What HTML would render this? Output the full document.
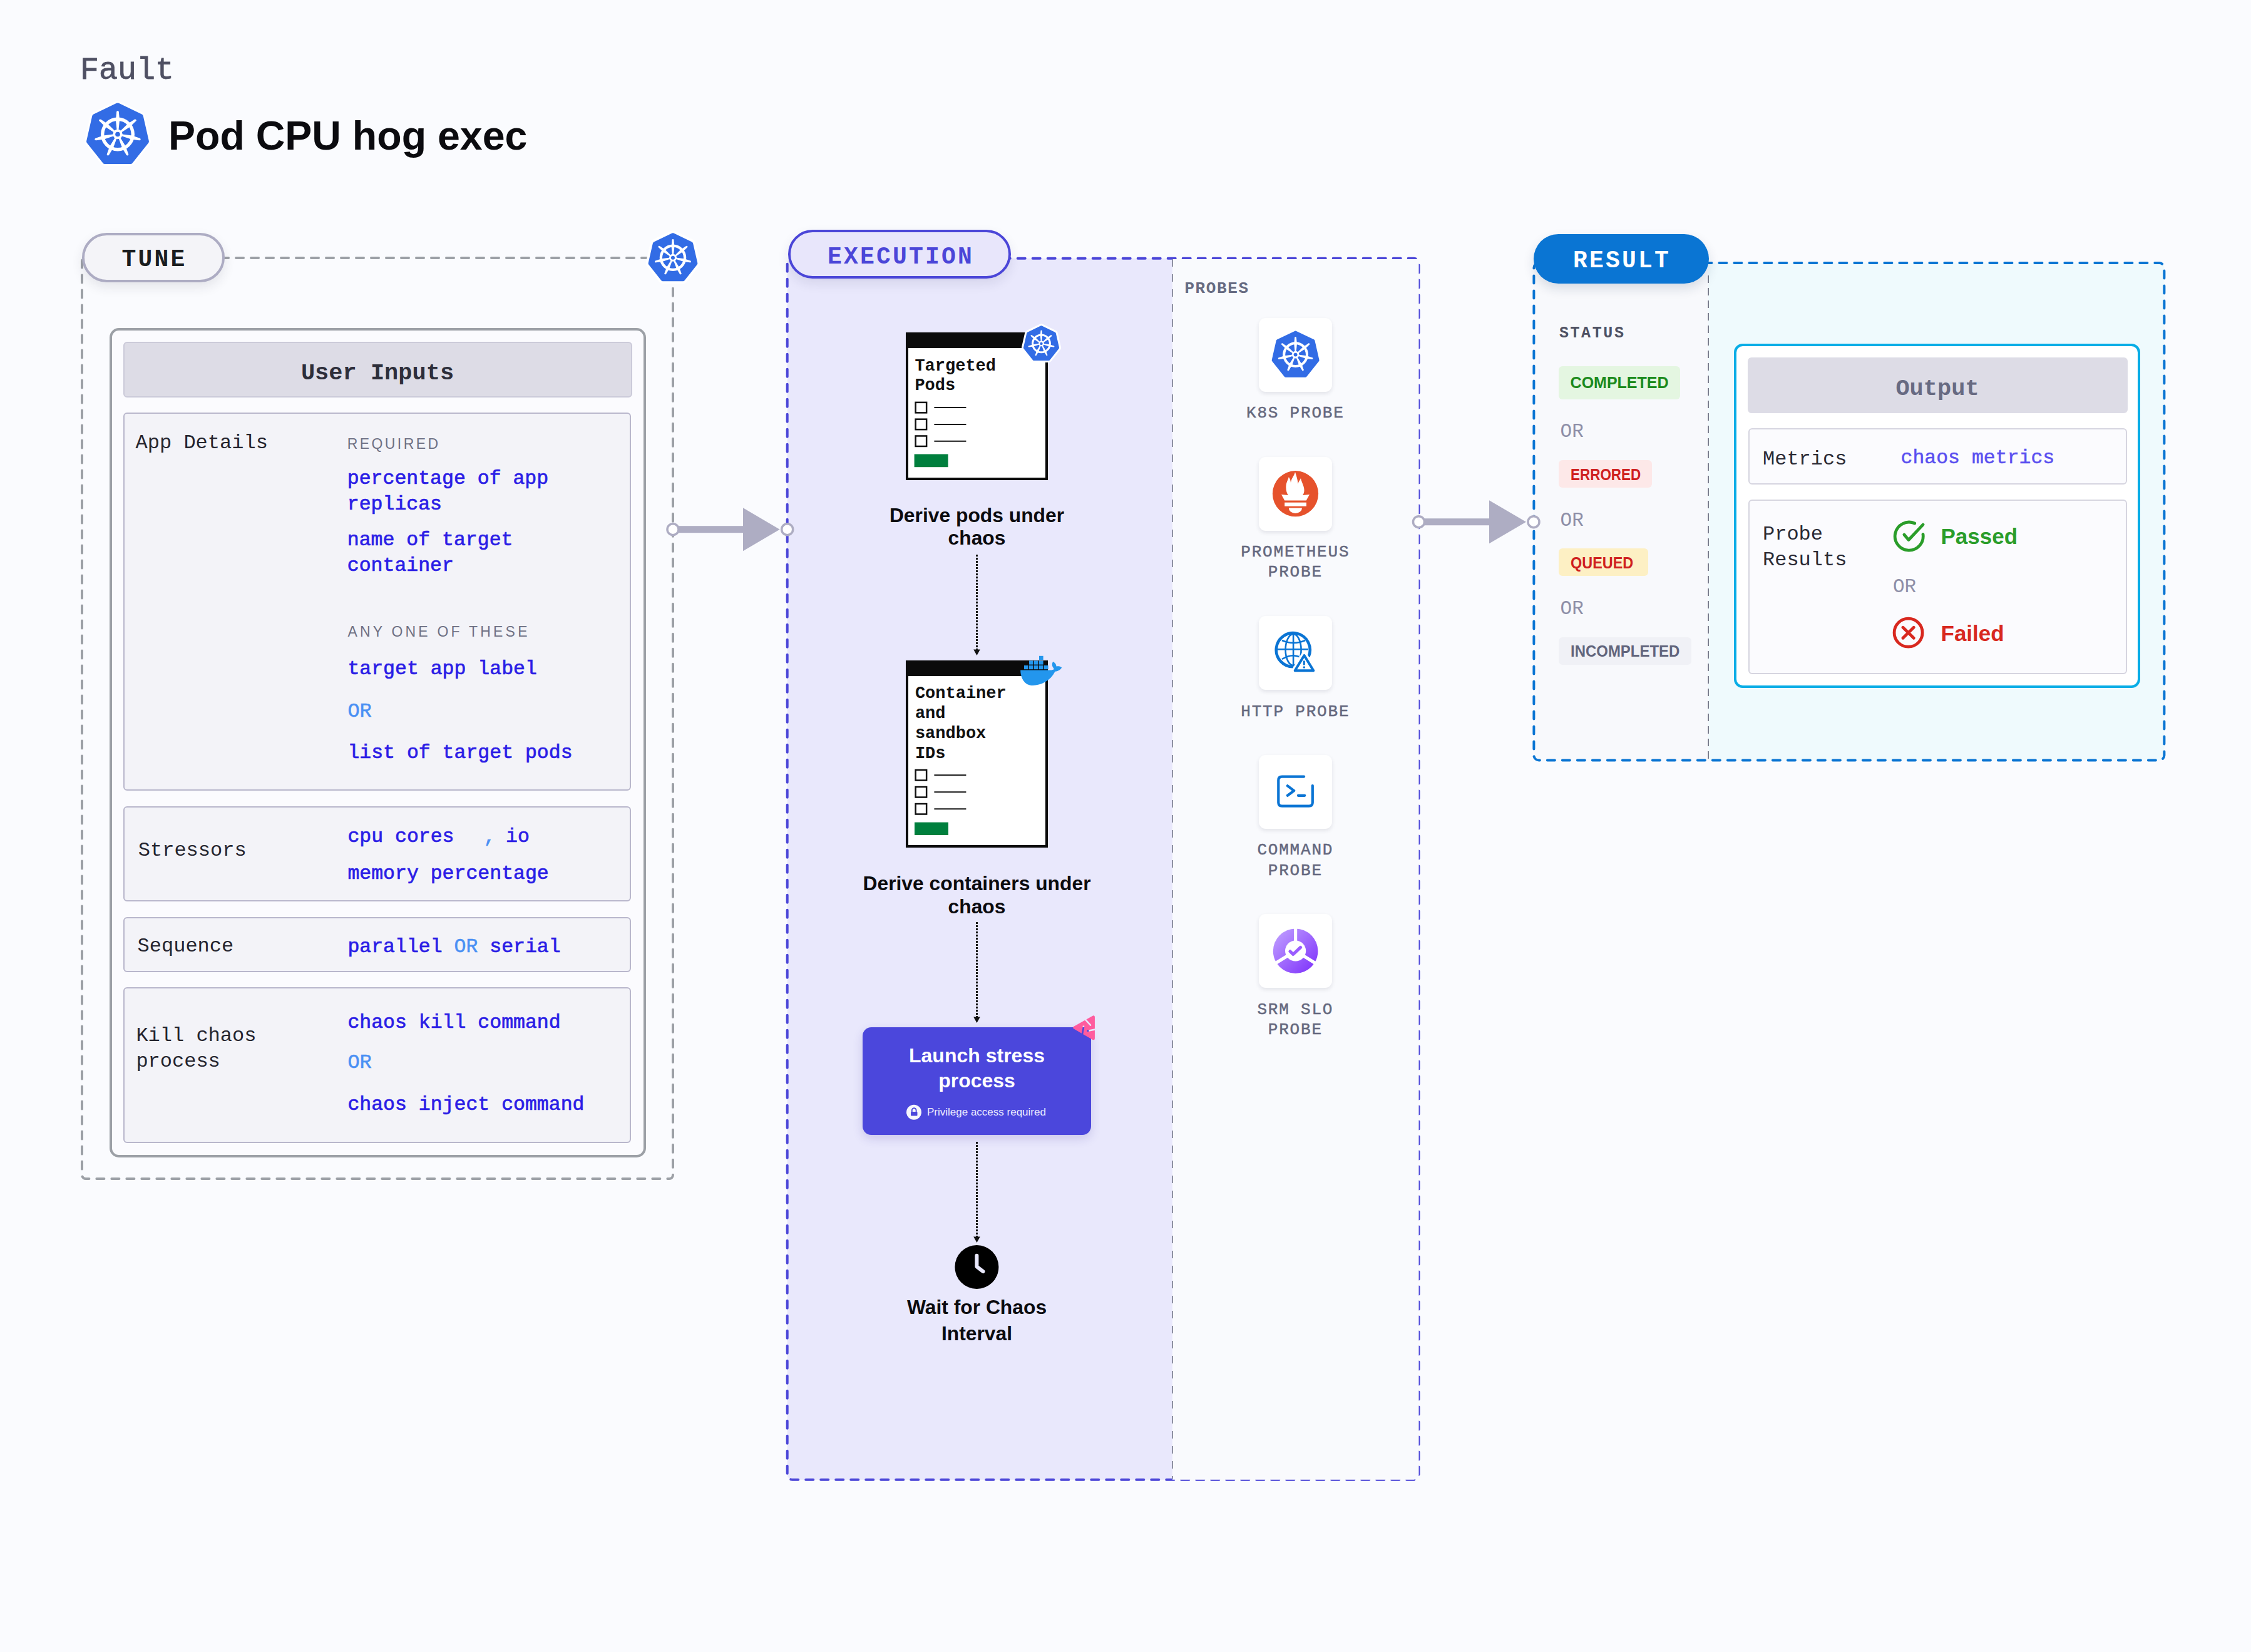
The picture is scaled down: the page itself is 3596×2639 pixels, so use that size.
<!DOCTYPE html>
<html><head><meta charset="utf-8"><style>
html,body{margin:0;padding:0;}
body{width:3596px;height:2639px;background:#fafbfe;position:relative;overflow:hidden;}
.t{position:absolute;white-space:nowrap;}
.b{position:absolute;}
svg.b{overflow:visible;}
</style></head><body>
<div class="t" style="left:128.0px;top:82.7px;font-size:50px;line-height:60.0px;font-family:'Liberation Mono', monospace;font-weight:400;color:#4f5063;-webkit-text-stroke:0.8px #4f5063;">Fault</div>
<svg class="b" style="left:0px;top:0px;" width="400" height="400" viewBox="0 0 400 400"><path d="M188.00,168.49 L224.76,186.19 L233.83,225.96 L208.40,257.86 L167.60,257.86 L142.17,225.96 L151.24,186.19Z" fill="#fff" stroke="#fff" stroke-width="14.18" stroke-linejoin="round"/><path d="M188.00,168.49 L224.76,186.19 L233.83,225.96 L208.40,257.86 L167.60,257.86 L142.17,225.96 L151.24,186.19Z" fill="#326ce5" stroke="#326ce5" stroke-width="8.18" stroke-linejoin="round"/><circle cx="188.00" cy="214.48" r="24.27" fill="none" stroke="#fff" stroke-width="5.37"/><path d="M189.28,209.37 L191.07,191.48 L189.79,178.71 L186.21,178.71 L184.93,191.48 L186.72,209.37Z" fill="#fff"/><circle cx="188.00" cy="178.71" r="1.79" fill="#fff"/><path d="M192.79,212.29 L207.89,202.54 L217.08,193.57 L214.85,190.78 L204.07,197.74 L191.20,210.29Z" fill="#fff"/><circle cx="215.97" cy="192.18" r="1.79" fill="#fff"/><path d="M192.70,216.86 L209.74,222.58 L222.48,224.18 L223.27,220.69 L211.10,216.61 L193.27,214.37Z" fill="#fff"/><circle cx="222.87" cy="222.44" r="1.79" fill="#fff"/><path d="M189.07,219.64 L195.21,236.53 L201.91,247.48 L205.13,245.93 L200.74,233.87 L191.37,218.53Z" fill="#fff"/><circle cx="203.52" cy="246.71" r="1.79" fill="#fff"/><path d="M184.63,218.53 L175.26,233.87 L170.87,245.93 L174.09,247.48 L180.79,236.53 L186.93,219.64Z" fill="#fff"/><circle cx="172.48" cy="246.71" r="1.79" fill="#fff"/><path d="M182.73,214.37 L164.90,216.61 L152.73,220.69 L153.52,224.18 L166.26,222.58 L183.30,216.86Z" fill="#fff"/><circle cx="153.13" cy="222.44" r="1.79" fill="#fff"/><path d="M184.80,210.29 L171.93,197.74 L161.15,190.78 L158.92,193.57 L168.11,202.54 L183.21,212.29Z" fill="#fff"/><circle cx="160.03" cy="192.18" r="1.79" fill="#fff"/><circle cx="188.00" cy="214.48" r="7.67" fill="#fff"/><circle cx="188.00" cy="214.48" r="3.83" fill="#326ce5"/></svg>
<div class="t" style="left:269.0px;top:179.0px;font-size:64.5px;line-height:77.39999999999999px;font-family:'Liberation Sans', sans-serif;font-weight:700;color:#0b0b0f;">Pod CPU hog exec</div>
<svg class="b" style="left:0px;top:0px;" width="3596" height="2639" viewBox="0 0 3596 2639"><rect x="131" y="412" width="944" height="1471" rx="6" fill="none" stroke="#9ca0a6" stroke-width="4" stroke-dasharray="12 12" stroke-linecap="round"/><rect x="1257.7" y="412.7" width="1008.8" height="1951" rx="8" fill="#f9fafd" stroke="none"/><path d="M1265.7,412.7 H1873 V2363.7 H1265.7 a8,8 0 0 1 -8,-8 V420.7 a8,8 0 0 1 8,-8Z" fill="#e9e8fc"/><rect x="1257.7" y="412.7" width="1008.8" height="1951" rx="8" fill="none" stroke="#4b46d8" stroke-width="4" stroke-dasharray="12 12" stroke-linecap="round"/><path d="M1873,414 H2266.5 V2355.7 a8,8 0 0 1 -8,8 H1873Z" fill="#f9fafd"/><line x1="1873" y1="414" x2="1873" y2="2362" stroke="#8e91a2" stroke-width="2" stroke-dasharray="12 12"/><rect x="2450.4" y="420" width="1007" height="794.5" rx="8" fill="#f8f9fc" stroke="none"/><path d="M2729.2,420 H3449.4 a8,8 0 0 1 8,8 V1206.5 a8,8 0 0 1 -8,8 H2729.2Z" fill="#effafd"/><line x1="2729.2" y1="440" x2="2729.2" y2="1213" stroke="#6d7082" stroke-width="1.5" stroke-dasharray="12 8"/><rect x="2450.4" y="420" width="1007" height="794.5" rx="8" fill="none" stroke="#0a75d3" stroke-width="4" stroke-dasharray="12 12" stroke-linecap="round"/></svg>
<div class="b" style="left:131px;top:372px;width:227.5px;height:78.69999999999999px;box-sizing:border-box;border:4px solid #adacc3;background:#f4f4f8;border-radius:40px;box-shadow:0 8px 18px rgba(40,40,60,0.10);"></div>
<div class="t" style="left:96.5px;top:392.4px;font-size:38px;line-height:45.6px;font-family:'Liberation Mono', monospace;font-weight:700;color:#1a1d1f;letter-spacing:3.2px;width:300px;text-align:center;">TUNE</div>
<svg class="b" style="left:0px;top:0px;" width="1200" height="600" viewBox="0 0 1200 600"><path d="M1075.00,375.42 L1103.99,389.38 L1111.15,420.75 L1091.09,445.90 L1058.91,445.90 L1038.85,420.75 L1046.01,389.38Z" fill="#fff" stroke="#fff" stroke-width="14.45" stroke-linejoin="round"/><path d="M1075.00,375.42 L1103.99,389.38 L1111.15,420.75 L1091.09,445.90 L1058.91,445.90 L1038.85,420.75 L1046.01,389.38Z" fill="#326ce5" stroke="#326ce5" stroke-width="6.45" stroke-linejoin="round"/><circle cx="1075.00" cy="411.69" r="19.14" fill="none" stroke="#fff" stroke-width="4.23"/><path d="M1076.01,407.66 L1077.42,393.56 L1076.41,383.48 L1073.59,383.48 L1072.58,393.56 L1073.99,407.66Z" fill="#fff"/><circle cx="1075.00" cy="383.48" r="1.41" fill="#fff"/><path d="M1078.78,409.97 L1090.69,402.28 L1097.93,395.21 L1096.18,393.00 L1087.67,398.50 L1077.52,408.39Z" fill="#fff"/><circle cx="1097.06" cy="394.11" r="1.41" fill="#fff"/><path d="M1078.70,413.57 L1092.14,418.09 L1102.19,419.35 L1102.82,416.60 L1093.22,413.37 L1079.15,411.61Z" fill="#fff"/><circle cx="1102.50" cy="417.97" r="1.41" fill="#fff"/><path d="M1075.84,415.76 L1080.69,429.08 L1085.97,437.72 L1088.51,436.50 L1085.05,426.98 L1077.66,414.89Z" fill="#fff"/><circle cx="1087.24" cy="437.11" r="1.41" fill="#fff"/><path d="M1072.34,414.89 L1064.95,426.98 L1061.49,436.50 L1064.03,437.72 L1069.31,429.08 L1074.16,415.76Z" fill="#fff"/><circle cx="1062.76" cy="437.11" r="1.41" fill="#fff"/><path d="M1070.85,411.61 L1056.78,413.37 L1047.18,416.60 L1047.81,419.35 L1057.86,418.09 L1071.30,413.57Z" fill="#fff"/><circle cx="1047.50" cy="417.97" r="1.41" fill="#fff"/><path d="M1072.48,408.39 L1062.33,398.50 L1053.82,393.00 L1052.07,395.21 L1059.31,402.28 L1071.22,409.97Z" fill="#fff"/><circle cx="1052.94" cy="394.11" r="1.41" fill="#fff"/><circle cx="1075.00" cy="411.69" r="6.04" fill="#fff"/><circle cx="1075.00" cy="411.69" r="3.02" fill="#326ce5"/></svg>
<div class="b" style="left:174.5px;top:523.5px;width:857.0px;height:1325.0px;box-sizing:border-box;border:4.5px solid #9ca0a6;border-radius:15px;background:#fbfbfe;"></div>
<div class="b" style="left:196.6px;top:545.7px;width:813.0px;height:89.59999999999991px;box-sizing:border-box;border:2px solid #cbcad9;border-radius:6px;background:#dddce6;"></div>
<div class="t" style="left:303.0px;top:573.9px;font-size:37px;line-height:44.4px;font-family:'Liberation Mono', monospace;font-weight:700;color:#2d2e3a;width:600px;text-align:center;">User Inputs</div>
<div class="b" style="left:197px;top:659px;width:811px;height:604.4000000000001px;box-sizing:border-box;border:2px solid #b9b7cc;border-radius:6px;background:#f3f3f8;"></div>
<div class="b" style="left:197px;top:1288px;width:811px;height:152px;box-sizing:border-box;border:2px solid #b9b7cc;border-radius:6px;background:#f3f3f8;"></div>
<div class="b" style="left:197px;top:1464.7px;width:811px;height:87.89999999999986px;box-sizing:border-box;border:2px solid #b9b7cc;border-radius:6px;background:#f3f3f8;"></div>
<div class="b" style="left:197px;top:1577.4px;width:811px;height:248.39999999999986px;box-sizing:border-box;border:2px solid #b9b7cc;border-radius:6px;background:#f3f3f8;"></div>
<div class="t" style="left:216.6px;top:689.3px;font-size:32px;line-height:38.4px;font-family:'Liberation Mono', monospace;font-weight:400;color:#24242e;">App Details</div>
<div class="t" style="left:554.8px;top:696.0px;font-size:23px;line-height:27.599999999999998px;font-family:'Liberation Sans', sans-serif;font-weight:400;color:#6e7084;letter-spacing:3.4px;">REQUIRED</div>
<div class="t" style="left:554.8px;top:745.1px;font-size:31.5px;line-height:40.6px;font-family:'Liberation Mono', monospace;font-weight:400;color:#2b1de6;-webkit-text-stroke:0.7px #2b1de6;">percentage of app<br>replicas</div>
<div class="t" style="left:554.8px;top:843.1px;font-size:31.5px;line-height:40.6px;font-family:'Liberation Mono', monospace;font-weight:400;color:#2b1de6;-webkit-text-stroke:0.7px #2b1de6;">name of target<br>container</div>
<div class="t" style="left:555.4px;top:995.5px;font-size:23px;line-height:27.599999999999998px;font-family:'Liberation Sans', sans-serif;font-weight:400;color:#6e7084;letter-spacing:4.2px;">ANY ONE OF THESE</div>
<div class="t" style="left:555.4px;top:1050.3px;font-size:31.5px;line-height:37.8px;font-family:'Liberation Mono', monospace;font-weight:400;color:#2b1de6;-webkit-text-stroke:0.7px #2b1de6;">target app label</div>
<div class="t" style="left:555.4px;top:1117.8px;font-size:32px;line-height:38.4px;font-family:'Liberation Mono', monospace;font-weight:400;color:#4a90f4;-webkit-text-stroke:0.5px #4a90f4">OR</div>
<div class="t" style="left:555.4px;top:1184.3px;font-size:31.5px;line-height:37.8px;font-family:'Liberation Mono', monospace;font-weight:400;color:#2b1de6;-webkit-text-stroke:0.7px #2b1de6;">list of target pods</div>
<div class="t" style="left:220.8px;top:1340.3px;font-size:32px;line-height:38.4px;font-family:'Liberation Mono', monospace;font-weight:400;color:#24242e;">Stressors</div>
<div class="t" style="left:555.4px;top:1318.3px;font-size:31.5px;line-height:37.8px;font-family:'Liberation Mono', monospace;font-weight:400;color:#2b1de6;-webkit-text-stroke:0.7px #2b1de6;">cpu cores</div>
<div class="t" style="left:772.8px;top:1318.3px;font-size:31.5px;line-height:37.8px;font-family:'Liberation Mono', monospace;font-weight:400;color:#4a90f4;-webkit-text-stroke:0.7px #4a90f4">,</div>
<div class="t" style="left:808.1px;top:1318.3px;font-size:31.5px;line-height:37.8px;font-family:'Liberation Mono', monospace;font-weight:400;color:#2b1de6;-webkit-text-stroke:0.7px #2b1de6;">io</div>
<div class="t" style="left:555.4px;top:1377.1px;font-size:31.5px;line-height:37.8px;font-family:'Liberation Mono', monospace;font-weight:400;color:#2b1de6;-webkit-text-stroke:0.7px #2b1de6;">memory percentage</div>
<div class="t" style="left:219.6px;top:1493.3px;font-size:32px;line-height:38.4px;font-family:'Liberation Mono', monospace;font-weight:400;color:#24242e;">Sequence</div>
<div class="t" style="left:555.4px;top:1493.7px;font-size:31.5px;line-height:37.8px;font-family:'Liberation Mono', monospace;font-weight:400;color:#2b1de6;-webkit-text-stroke:0.7px #2b1de6;">parallel <span style="color:#4a90f4;-webkit-text-stroke:0.5px #4a90f4">OR</span> serial</div>
<div class="t" style="left:217.4px;top:1633.7px;font-size:32px;line-height:41.5px;font-family:'Liberation Mono', monospace;font-weight:400;color:#24242e;">Kill chaos<br>process</div>
<div class="t" style="left:555.4px;top:1614.5px;font-size:31.5px;line-height:37.8px;font-family:'Liberation Mono', monospace;font-weight:400;color:#2b1de6;-webkit-text-stroke:0.7px #2b1de6;">chaos kill command</div>
<div class="t" style="left:555.4px;top:1679.1px;font-size:32px;line-height:38.4px;font-family:'Liberation Mono', monospace;font-weight:400;color:#4a90f4;-webkit-text-stroke:0.5px #4a90f4">OR</div>
<div class="t" style="left:555.4px;top:1746.2px;font-size:31.5px;line-height:37.8px;font-family:'Liberation Mono', monospace;font-weight:400;color:#2b1de6;-webkit-text-stroke:0.7px #2b1de6;">chaos inject command</div>
<svg class="b" style="left:0px;top:0px;pointer-events:none;" width="3596" height="2639" viewBox="0 0 3596 2639"><rect x="1075" y="840.2" width="114" height="11" fill="#aeadc3"/><path d="M1187,811.2 L1245.7,845.7 L1187,880.2Z" fill="#aeadc3"/><circle cx="1075" cy="845.7" r="9" fill="#fff" stroke="#aeadc3" stroke-width="3.5"/><circle cx="1257.7" cy="845.7" r="9" fill="#fff" stroke="#aeadc3" stroke-width="3.5"/><rect x="2266.5" y="828.2" width="114.5" height="11" fill="#aeadc3"/><path d="M2379,799.2 L2438,833.7 L2379,868.2Z" fill="#aeadc3"/><circle cx="2266.5" cy="833.7" r="9" fill="#fff" stroke="#aeadc3" stroke-width="3.5"/><circle cx="2450" cy="833.7" r="9" fill="#fff" stroke="#aeadc3" stroke-width="3.5"/></svg>
<div class="b" style="left:1258.5px;top:367.2px;width:356.70000000000005px;height:77.80000000000001px;box-sizing:border-box;border:4px solid #4b46d8;background:#e8e6fb;border-radius:40px;box-shadow:0 8px 18px rgba(40,40,90,0.10);"></div>
<div class="t" style="left:1239.0px;top:388.1px;font-size:38px;line-height:45.6px;font-family:'Liberation Mono', monospace;font-weight:700;color:#4b46d8;letter-spacing:3.2px;width:400px;text-align:center;">EXECUTION</div>
<div class="b" style="left:1446.6px;top:531px;width:227.70000000000005px;height:235.60000000000002px;box-sizing:border-box;border:4px solid #0b0b0b;border-top:25px solid #0b0b0b;background:#fff;"></div>
<div class="t" style="left:1461.4px;top:569.8px;font-size:27px;line-height:31.6px;font-family:'Liberation Mono', monospace;font-weight:700;color:#111;">Targeted<br>Pods</div>
<svg class="b" style="left:0px;top:0px;" width="3596" height="2639" viewBox="0 0 3596 2639"><rect x="1462.65" y="642.85" width="17.5" height="16.5" fill="none" stroke="#111" stroke-width="2.5"/><line x1="1492.4" y1="651.1" x2="1543.4" y2="651.1" stroke="#111" stroke-width="2"/><rect x="1462.65" y="669.65" width="17.5" height="16.5" fill="none" stroke="#111" stroke-width="2.5"/><line x1="1492.4" y1="677.9" x2="1543.4" y2="677.9" stroke="#111" stroke-width="2"/><rect x="1462.65" y="696.45" width="17.5" height="16.5" fill="none" stroke="#111" stroke-width="2.5"/><line x1="1492.4" y1="704.7" x2="1543.4" y2="704.7" stroke="#111" stroke-width="2"/><rect x="1460.6" y="725.5" width="54" height="20.7" fill="#007f3d"/></svg>
<svg class="b" style="left:0px;top:0px;" width="1800" height="700" viewBox="0 0 1800 700"><path d="M1663.50,522.64 L1684.50,532.75 L1689.69,555.48 L1675.16,573.70 L1651.84,573.70 L1637.31,555.48 L1642.50,532.75Z" fill="#fff" stroke="#fff" stroke-width="10.67" stroke-linejoin="round"/><path d="M1663.50,522.64 L1684.50,532.75 L1689.69,555.48 L1675.16,573.70 L1651.84,573.70 L1637.31,555.48 L1642.50,532.75Z" fill="#326ce5" stroke="#326ce5" stroke-width="4.67" stroke-linejoin="round"/><circle cx="1663.50" cy="548.92" r="13.87" fill="none" stroke="#fff" stroke-width="3.07"/><path d="M1664.23,546.00 L1665.25,535.78 L1664.52,528.48 L1662.48,528.48 L1661.75,535.78 L1662.77,546.00Z" fill="#fff"/><circle cx="1663.50" cy="528.48" r="1.02" fill="#fff"/><path d="M1666.24,547.67 L1674.87,542.09 L1680.12,536.97 L1678.84,535.37 L1672.68,539.35 L1665.33,546.52Z" fill="#fff"/><circle cx="1679.48" cy="536.17" r="1.02" fill="#fff"/><path d="M1666.18,550.28 L1675.92,553.55 L1683.20,554.46 L1683.65,552.47 L1676.70,550.13 L1666.51,548.85Z" fill="#fff"/><circle cx="1683.43" cy="553.46" r="1.02" fill="#fff"/><path d="M1664.11,551.86 L1667.62,561.51 L1671.45,567.78 L1673.29,566.89 L1670.78,559.99 L1665.42,551.23Z" fill="#fff"/><circle cx="1672.37" cy="567.33" r="1.02" fill="#fff"/><path d="M1661.58,551.23 L1656.22,559.99 L1653.71,566.89 L1655.55,567.78 L1659.38,561.51 L1662.89,551.86Z" fill="#fff"/><circle cx="1654.63" cy="567.33" r="1.02" fill="#fff"/><path d="M1660.49,548.85 L1650.30,550.13 L1643.35,552.47 L1643.80,554.46 L1651.08,553.55 L1660.82,550.28Z" fill="#fff"/><circle cx="1643.57" cy="553.46" r="1.02" fill="#fff"/><path d="M1661.67,546.52 L1654.32,539.35 L1648.16,535.37 L1646.88,536.97 L1652.13,542.09 L1660.76,547.67Z" fill="#fff"/><circle cx="1647.52" cy="536.17" r="1.02" fill="#fff"/><circle cx="1663.50" cy="548.92" r="4.38" fill="#fff"/><circle cx="1663.50" cy="548.92" r="2.19" fill="#326ce5"/></svg>
<div class="t" style="left:1310.5px;top:804.7px;font-size:31.8px;line-height:36.5px;font-family:'Liberation Sans', sans-serif;font-weight:700;color:#0b0b0f;width:500px;text-align:center;">Derive pods under<br>chaos</div>
<svg class="b" style="left:0px;top:0px;" width="3596" height="2639" viewBox="0 0 3596 2639"><line x1="1560.5" y1="886" x2="1560.5" y2="1039" stroke="#111" stroke-width="3" stroke-dasharray="3 2"/><path d="M1555.2,1037.5 L1565.8,1037.5 L1560.5,1047Z" fill="#111"/><line x1="1560.5" y1="1473" x2="1560.5" y2="1626" stroke="#111" stroke-width="3" stroke-dasharray="3 2"/><path d="M1555.2,1624.5 L1565.8,1624.5 L1560.5,1634Z" fill="#111"/><line x1="1560.5" y1="1824" x2="1560.5" y2="1977" stroke="#111" stroke-width="3" stroke-dasharray="3 2"/><path d="M1555.2,1975.5 L1565.8,1975.5 L1560.5,1985Z" fill="#111"/></svg>
<div class="b" style="left:1446.6px;top:1055px;width:227.60000000000014px;height:299.20000000000005px;box-sizing:border-box;border:4px solid #0b0b0b;border-top:25px solid #0b0b0b;background:#fff;"></div>
<div class="t" style="left:1461.9px;top:1093.4px;font-size:27px;line-height:31.8px;font-family:'Liberation Mono', monospace;font-weight:700;color:#111;">Container<br>and<br>sandbox<br>IDs</div>
<svg class="b" style="left:0px;top:0px;" width="3596" height="2639" viewBox="0 0 3596 2639"><rect x="1462.65" y="1230.05" width="17.5" height="16.5" fill="none" stroke="#111" stroke-width="2.5"/><line x1="1492.4" y1="1238.3" x2="1543.4" y2="1238.3" stroke="#111" stroke-width="2"/><rect x="1462.65" y="1257.05" width="17.5" height="16.5" fill="none" stroke="#111" stroke-width="2.5"/><line x1="1492.4" y1="1265.3" x2="1543.4" y2="1265.3" stroke="#111" stroke-width="2"/><rect x="1462.65" y="1284.05" width="17.5" height="16.5" fill="none" stroke="#111" stroke-width="2.5"/><line x1="1492.4" y1="1292.3" x2="1543.4" y2="1292.3" stroke="#111" stroke-width="2"/><rect x="1461" y="1313.6" width="54" height="20.4" fill="#007f3d"/></svg>
<svg class="b" style="left:0px;top:0px;" width="3596" height="2639" viewBox="0 0 3596 2639"><rect x="1660" y="1047.8" width="6.6" height="6.2" fill="#2396ed"/><rect x="1644" y="1055.4" width="6.6" height="6.2" fill="#2396ed"/><rect x="1652" y="1055.4" width="6.6" height="6.2" fill="#2396ed"/><rect x="1660" y="1055.4" width="6.6" height="6.2" fill="#2396ed"/><rect x="1636" y="1063" width="6.6" height="6.2" fill="#2396ed"/><rect x="1644" y="1063" width="6.6" height="6.2" fill="#2396ed"/><rect x="1652" y="1063" width="6.6" height="6.2" fill="#2396ed"/><rect x="1660" y="1063" width="6.6" height="6.2" fill="#2396ed"/><rect x="1668" y="1063" width="6.6" height="6.2" fill="#2396ed"/><path d="M1630.2,1070.4 L1680,1070.4 C1683,1070.4 1685,1069 1682,1066 C1680,1062 1681,1058 1682.5,1057 C1686,1059 1687.5,1062 1687.5,1064.5 C1690,1064 1694,1064 1696.2,1066.5 C1694,1070 1690,1072.5 1685.5,1072.8 C1678,1088 1662,1095 1650,1095 C1636,1095 1630.2,1082 1630.2,1070.4Z" fill="#2396ed"/></svg>
<div class="t" style="left:1260.5px;top:1393.2px;font-size:31.8px;line-height:36.5px;font-family:'Liberation Sans', sans-serif;font-weight:700;color:#0b0b0f;width:600px;text-align:center;">Derive containers under<br>chaos</div>
<div class="b" style="left:1378px;top:1640.7px;width:365px;height:171.89999999999986px;background:#4b47dc;border-radius:14px;box-shadow:0 6px 16px rgba(60,50,160,0.18);"></div>
<div class="t" style="left:1380.5px;top:1665.8px;font-size:32px;line-height:40.1px;font-family:'Liberation Sans', sans-serif;font-weight:700;color:#fff;width:360px;text-align:center;">Launch stress<br>process</div>
<svg class="b" style="left:1446px;top:1763px;" width="28" height="28" viewBox="0 0 28 28"><circle cx="14" cy="13.8" r="12" fill="#f6f6fc"/><rect x="9" y="13" width="10.5" height="6.6" rx="1" fill="#4b47dc"/><path d="M10.8,13.5 V10.5 a3.4,3.4 0 0 1 6.8,0 V13.5" fill="none" stroke="#4b47dc" stroke-width="1.8"/></svg>
<div class="t" style="left:1481.0px;top:1766.5px;font-size:17px;line-height:20.4px;font-family:'Liberation Sans', sans-serif;font-weight:400;color:#ececff;">Privilege access required</div>
<svg class="b" style="left:0px;top:0px;" width="3596" height="2639" viewBox="0 0 3596 2639"><path d="M1716.5,1641.6 L1746.7,1624.6 L1746.7,1659Z" fill="#ff5c9e" stroke="#ff5c9e" stroke-width="4.5" stroke-linejoin="round"/><path d="M1734.1,1628.9 L1742.1,1637.6" stroke="#e8e8fc" stroke-width="2.6" stroke-linecap="round"/><path d="M1731,1640.7 L1729,1652" stroke="#4b47dc" stroke-width="2.6"/><path d="M1731,1638.5 L1730.8,1640.7" stroke="#e8e8fc" stroke-width="2.6"/><path d="M1749.5,1644.5 L1738,1646.7" stroke="#e8e8fc" stroke-width="2.6"/><circle cx="1738" cy="1646.7" r="1.6" fill="#4b47dc"/></svg>
<svg class="b" style="left:1520px;top:1984px;" width="82" height="82" viewBox="0 0 82 82"><circle cx="40.4" cy="40" r="35" fill="#000"/><path d="M40.4,21.7 V39.3 L50.5,47.1" fill="none" stroke="#e9e8fc" stroke-width="6" stroke-linecap="round" stroke-linejoin="round"/></svg>
<div class="t" style="left:1310.5px;top:2067.0px;font-size:31.8px;line-height:42px;font-family:'Liberation Sans', sans-serif;font-weight:700;color:#0b0b0f;width:500px;text-align:center;">Wait for Chaos<br>Interval</div>
<div class="t" style="left:1892.4px;top:445.7px;font-size:26px;line-height:31.2px;font-family:'Liberation Mono', monospace;font-weight:700;color:#676b82;letter-spacing:1.6px;">PROBES</div>
<div class="b" style="left:2010.5px;top:507.6px;width:117.59999999999991px;height:118.0px;background:#fff;border-radius:11px;box-shadow:0 3px 6px rgba(30,30,60,0.10);"></div>
<div class="b" style="left:2010.5px;top:729.8px;width:117.59999999999991px;height:118.0px;background:#fff;border-radius:11px;box-shadow:0 3px 6px rgba(30,30,60,0.10);"></div>
<div class="b" style="left:2010.5px;top:983.6px;width:117.59999999999991px;height:117.99999999999989px;background:#fff;border-radius:11px;box-shadow:0 3px 6px rgba(30,30,60,0.10);"></div>
<div class="b" style="left:2010.5px;top:1205.7px;width:117.59999999999991px;height:118.0px;background:#fff;border-radius:11px;box-shadow:0 3px 6px rgba(30,30,60,0.10);"></div>
<div class="b" style="left:2010.5px;top:1460px;width:117.59999999999991px;height:118px;background:#fff;border-radius:11px;box-shadow:0 3px 6px rgba(30,30,60,0.10);"></div>
<div class="t" style="left:1919.3px;top:645.4px;font-size:26px;line-height:31.2px;font-family:'Liberation Mono', monospace;font-weight:400;color:#65687e;letter-spacing:1.8px;width:300px;text-align:center;-webkit-text-stroke:0.5px #65687e">K8S PROBE</div>
<div class="t" style="left:1919.3px;top:867.0px;font-size:26px;line-height:31.5px;font-family:'Liberation Mono', monospace;font-weight:400;color:#65687e;letter-spacing:1.8px;width:300px;text-align:center;-webkit-text-stroke:0.5px #65687e">PROMETHEUS<br>PROBE</div>
<div class="t" style="left:1919.3px;top:1121.9px;font-size:26px;line-height:31.2px;font-family:'Liberation Mono', monospace;font-weight:400;color:#65687e;letter-spacing:1.8px;width:300px;text-align:center;-webkit-text-stroke:0.5px #65687e">HTTP PROBE</div>
<div class="t" style="left:1919.3px;top:1342.2px;font-size:26px;line-height:32.7px;font-family:'Liberation Mono', monospace;font-weight:400;color:#65687e;letter-spacing:1.8px;width:300px;text-align:center;-webkit-text-stroke:0.5px #65687e">COMMAND<br>PROBE</div>
<div class="t" style="left:1919.3px;top:1596.8px;font-size:26px;line-height:32.2px;font-family:'Liberation Mono', monospace;font-weight:400;color:#65687e;letter-spacing:1.8px;width:300px;text-align:center;-webkit-text-stroke:0.5px #65687e">SRM SLO<br>PROBE</div>
<svg class="b" style="left:0px;top:0px;" width="2200" height="700" viewBox="0 0 2200 700"><path d="M2069.60,531.70 L2097.51,545.14 L2104.40,575.34 L2085.09,599.56 L2054.11,599.56 L2034.80,575.34 L2041.69,545.14Z" fill="#326ce5" stroke="#326ce5" stroke-width="6.21" stroke-linejoin="round"/><circle cx="2069.60" cy="566.62" r="18.43" fill="none" stroke="#fff" stroke-width="4.07"/><path d="M2070.57,562.74 L2071.93,549.16 L2070.96,539.46 L2068.24,539.46 L2067.27,549.16 L2068.63,562.74Z" fill="#fff"/><circle cx="2069.60" cy="539.46" r="1.36" fill="#fff"/><path d="M2073.24,564.96 L2084.70,557.56 L2091.68,550.75 L2089.99,548.63 L2081.80,553.92 L2072.03,563.45Z" fill="#fff"/><circle cx="2090.83" cy="549.69" r="1.36" fill="#fff"/><path d="M2073.17,568.43 L2086.10,572.78 L2095.78,573.99 L2096.38,571.34 L2087.14,568.24 L2073.60,566.54Z" fill="#fff"/><circle cx="2096.08" cy="572.67" r="1.36" fill="#fff"/><path d="M2070.41,570.54 L2075.08,583.36 L2080.16,591.68 L2082.61,590.51 L2079.27,581.34 L2072.16,569.70Z" fill="#fff"/><circle cx="2081.38" cy="591.09" r="1.36" fill="#fff"/><path d="M2067.04,569.70 L2059.93,581.34 L2056.59,590.51 L2059.04,591.68 L2064.12,583.36 L2068.79,570.54Z" fill="#fff"/><circle cx="2057.82" cy="591.09" r="1.36" fill="#fff"/><path d="M2065.60,566.54 L2052.06,568.24 L2042.82,571.34 L2043.42,573.99 L2053.10,572.78 L2066.03,568.43Z" fill="#fff"/><circle cx="2043.12" cy="572.67" r="1.36" fill="#fff"/><path d="M2067.17,563.45 L2057.40,553.92 L2049.21,548.63 L2047.52,550.75 L2054.50,557.56 L2065.96,564.96Z" fill="#fff"/><circle cx="2048.37" cy="549.69" r="1.36" fill="#fff"/><circle cx="2069.60" cy="566.62" r="5.82" fill="#fff"/><circle cx="2069.60" cy="566.62" r="2.91" fill="#326ce5"/></svg>
<svg class="b" style="left:2010px;top:728px;" width="120" height="122" viewBox="0 0 120 122"><circle cx="59.5" cy="60.7" r="36.6" fill="#e6522c"/><path d="M44.5,48 C45,42 48,38 48.8,34 C51,37 51.7,40 52,43 C53,36 57,33 59,26 C61,32 63,38 63.5,45 C64.5,41 67,38.5 68,36 C69,42 73.5,48 73.5,55 C73.5,59 72.5,61 71,63 L82,62 C80,66 78,69 76.8,71.6 L42.1,71.6 C41,69 39,66 37,62 L48,63 C45.5,60 44,55 44.5,48Z" fill="#fff"/><rect x="42.2" y="74.7" width="34.8" height="6" fill="#fff"/><path d="M48.8,83.5 H70 A10.6,8.5 0 0 1 48.8,83.5Z" fill="#fff"/></svg>
<svg class="b" style="left:2010px;top:982px;" width="120" height="122" viewBox="0 0 120 122"><g fill="none" stroke="#0a74d4"><path d="M56.5,83.2 A27,27 0 1 1 80.5,67" stroke-width="4.6"/><ellipse cx="56.1" cy="56" rx="12.5" ry="25" stroke-width="2.6"/><line x1="56.1" y1="31" x2="56.1" y2="80" stroke-width="2.6"/><line x1="31" y1="55.3" x2="80" y2="55.3" stroke-width="2.6"/><path d="M38,41 Q56.5,49 75,41" stroke-width="2.6"/><path d="M38,71 Q52,62 65,67" stroke-width="2.6"/></g><path d="M73.5,64.5 L88.5,89.5 H58.5 Z" fill="#fff" stroke="#fff" stroke-width="10" stroke-linejoin="round"/><path d="M73.5,65 L88.3,89.3 H58.7 Z" fill="none" stroke="#0a74d4" stroke-width="4" stroke-linejoin="round"/><line x1="73.3" y1="73.5" x2="73.3" y2="80.5" stroke="#0a74d4" stroke-width="3"/><circle cx="73.3" cy="84" r="1.8" fill="#0a74d4"/></svg>
<svg class="b" style="left:2010px;top:1204px;" width="120" height="122" viewBox="0 0 120 122"><g fill="none" stroke="#0a74d4" stroke-width="4.2" stroke-linecap="round" stroke-linejoin="round"><path d="M73.1,36.6 H38 Q32.3,36.6 32.3,42.3 V78 Q32.3,83.7 38,83.7 H81 Q86.8,83.7 86.8,78 V51"/><path d="M46.9,51.3 L57.2,59.1 L46.9,66.8"/><path d="M63.9,66.8 H74.2"/></g></svg>
<svg class="b" style="left:2010px;top:1458px;" width="120" height="122" viewBox="0 0 120 122"><defs><linearGradient id="sg" x1="0" y1="0" x2="1" y2="1"><stop offset="0" stop-color="#c3a5ff"/><stop offset="1" stop-color="#7b2cfb"/></linearGradient></defs><circle cx="59.6" cy="61.3" r="35.8" fill="url(#sg)"/><circle cx="59.6" cy="61" r="16.6" fill="#fff"/><g stroke="#fff" stroke-width="5.2"><line x1="59.6" y1="61" x2="59.6" y2="20"/><line x1="59.6" y1="61" x2="24" y2="83"/><line x1="59.6" y1="61" x2="95" y2="83"/></g><path d="M51,61.7 L55.8,66.5 L67.6,55.4" fill="none" stroke="#9a5cff" stroke-width="5" stroke-linecap="round" stroke-linejoin="round"/></svg>
<div class="b" style="left:2450px;top:374px;width:280px;height:79px;background:#0a75d3;border-radius:40px;box-shadow:0 8px 18px rgba(20,40,80,0.14);"></div>
<div class="t" style="left:2441.0px;top:394.4px;font-size:38px;line-height:45.6px;font-family:'Liberation Mono', monospace;font-weight:700;color:#fff;letter-spacing:3.2px;width:300px;text-align:center;">RESULT</div>
<div class="t" style="left:2490.9px;top:518.4px;font-size:25px;line-height:30.0px;font-family:'Liberation Mono', monospace;font-weight:700;color:#4f5162;letter-spacing:2.6px;">STATUS</div>
<div class="b" style="left:2490px;top:585px;width:193.80000000000018px;height:52.60000000000002px;background:#e4f6e1;border-radius:6px;"></div>
<div class="t" style="left:2508.6px;top:596.2px;font-size:25px;line-height:30.0px;font-family:'Liberation Sans', sans-serif;font-weight:700;color:#1c8a1c;">COMPLETED</div>
<div class="t" style="left:2492.6px;top:671.2px;font-size:31px;line-height:37.199999999999996px;font-family:'Liberation Mono', monospace;font-weight:400;color:#8e8fa8;">OR</div>
<div class="b" style="left:2490px;top:734.8px;width:148.80000000000018px;height:44.10000000000002px;background:#fde8e8;border-radius:6px;"></div>
<div class="t" style="left:2508.6px;top:742.7px;font-size:25px;line-height:30.0px;font-family:'Liberation Sans', sans-serif;font-weight:700;color:#cf2020;transform:scaleX(0.898);transform-origin:0 0;">ERRORED</div>
<div class="t" style="left:2492.6px;top:813.2px;font-size:31px;line-height:37.199999999999996px;font-family:'Liberation Mono', monospace;font-weight:400;color:#8e8fa8;">OR</div>
<div class="b" style="left:2490px;top:876.4px;width:142.80000000000018px;height:43.60000000000002px;background:#fdf0c4;border-radius:6px;"></div>
<div class="t" style="left:2508.6px;top:884.3px;font-size:25px;line-height:30.0px;font-family:'Liberation Sans', sans-serif;font-weight:700;color:#cf2020;transform:scaleX(0.937);transform-origin:0 0;">QUEUED</div>
<div class="t" style="left:2492.6px;top:954.2px;font-size:31px;line-height:37.199999999999996px;font-family:'Liberation Mono', monospace;font-weight:400;color:#8e8fa8;">OR</div>
<div class="b" style="left:2490px;top:1018px;width:212px;height:43.5px;background:#f0f1f6;border-radius:6px;"></div>
<div class="t" style="left:2508.6px;top:1025.3px;font-size:25px;line-height:30.0px;font-family:'Liberation Sans', sans-serif;font-weight:700;color:#62657c;transform:scaleX(0.958);transform-origin:0 0;">INCOMPLETED</div>
<div class="b" style="left:2769.8px;top:548.7px;width:649.0px;height:549.8999999999999px;box-sizing:border-box;border:4px solid #08ade6;border-radius:14px;background:#ffffff;"></div>
<div class="b" style="left:2791.6px;top:570.5px;width:607.0px;height:89.89999999999998px;background:#dddce6;border-radius:6px;"></div>
<div class="t" style="left:2895.0px;top:598.5px;font-size:37px;line-height:44.4px;font-family:'Liberation Mono', monospace;font-weight:700;color:#676a82;width:400px;text-align:center;">Output</div>
<div class="b" style="left:2792.6px;top:683.9px;width:605.4000000000001px;height:89.89999999999998px;box-sizing:border-box;border:2px solid #d6d5e0;border-radius:6px;background:#fbfbfe;"></div>
<div class="b" style="left:2792.6px;top:797.8px;width:605.4000000000001px;height:279.0px;box-sizing:border-box;border:2px solid #d6d5e0;border-radius:6px;background:#fbfbfe;"></div>
<div class="t" style="left:2816.0px;top:714.5px;font-size:32px;line-height:38.4px;font-family:'Liberation Mono', monospace;font-weight:400;color:#2a2a35;">Metrics</div>
<div class="t" style="left:3036.5px;top:713.2px;font-size:31.5px;line-height:37.8px;font-family:'Liberation Mono', monospace;font-weight:400;color:#5a4ff0;-webkit-text-stroke:0.5px #5a4ff0;">chaos metrics</div>
<div class="t" style="left:2816.0px;top:833.0px;font-size:32px;line-height:41px;font-family:'Liberation Mono', monospace;font-weight:400;color:#2a2a35;">Probe<br>Results</div>
<svg class="b" style="left:0px;top:0px;" width="3596" height="1200" viewBox="0 0 3596 1200"><path d="M3058.7,836 A22.5,22.5 0 1 0 3072,853.4" fill="none" stroke="#2a9d2a" stroke-width="4.8" stroke-linecap="round"/><path d="M3042,854.1 L3049,862.5 L3072,838.1" fill="none" stroke="#2a9d2a" stroke-width="4.8" stroke-linecap="round" stroke-linejoin="round"/></svg>
<div class="t" style="left:3100.5px;top:836.3px;font-size:35px;line-height:42.0px;font-family:'Liberation Sans', sans-serif;font-weight:700;color:#2a9d2a;">Passed</div>
<div class="t" style="left:3024.0px;top:918.5px;font-size:31px;line-height:37.199999999999996px;font-family:'Liberation Mono', monospace;font-weight:400;color:#8e8fa8;">OR</div>
<svg class="b" style="left:0px;top:0px;" width="3596" height="1200" viewBox="0 0 3596 1200"><circle cx="3048.6" cy="1010.7" r="22.5" fill="none" stroke="#d8281f" stroke-width="4.8"/><path d="M3040,1002.2 L3057.2,1019.2 M3057.2,1002.2 L3040,1019.2" stroke="#d8281f" stroke-width="4.8" stroke-linecap="round"/></svg>
<div class="t" style="left:3100.5px;top:990.9px;font-size:35px;line-height:42.0px;font-family:'Liberation Sans', sans-serif;font-weight:700;color:#d8281f;">Failed</div>
</body></html>
